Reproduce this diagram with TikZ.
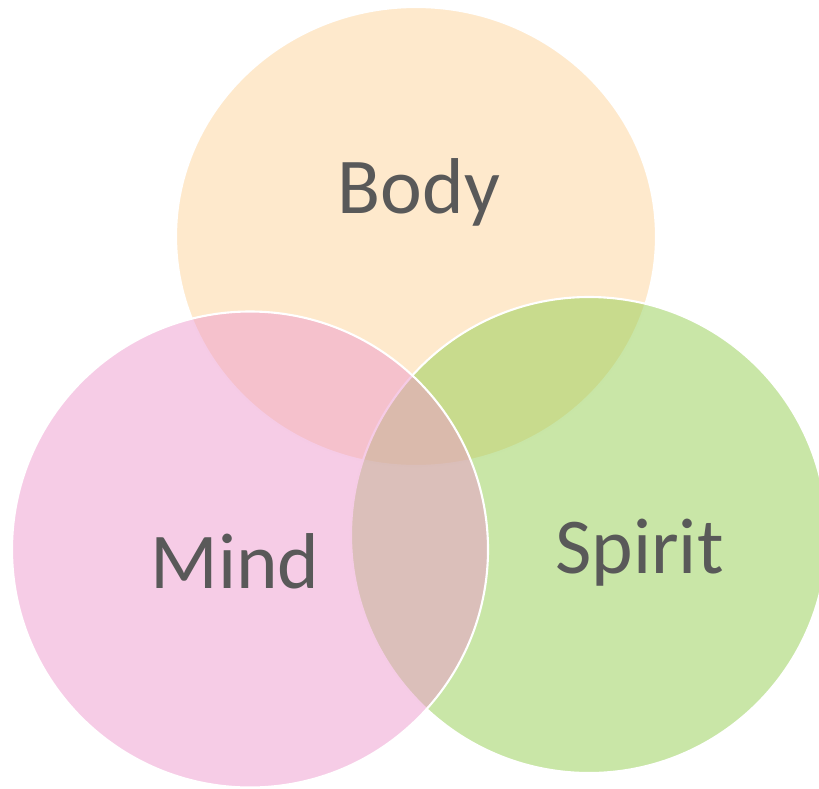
\documentclass[tikz,border=0pt]{standalone}
\usepackage{fontspec}
\setmainfont{Carlito}
\definecolor{bodyfill}{RGB}{253,211,153}
\definecolor{mindfill}{RGB}{237,153,205}
\definecolor{spiritfill}{RGB}{147,205,79}
\definecolor{textgray}{RGB}{89,89,89}
\begin{document}
\begin{tikzpicture}[x=0.01cm, y=-0.01cm]
    \tikzset{
        venn/.style={fill opacity=0.5, draw=white, line width=0.6pt},
        vennlabel/.style={text=textgray, anchor=base, font=\fontsize{22.5}{27}\selectfont}
    }
    \useasboundingbox (0,0) rectangle (819,788);
    % Circles
    \draw[venn, fill=bodyfill] (416,236.5) ellipse [x radius=240, y radius=229.5];
    \draw[venn, fill=spiritfill] (589,535) circle [radius=238];
    \draw[venn, fill=mindfill] (250,549.5) circle [radius=238];
    % Labels
    \node[vennlabel] (body) at (419,213) {Body};
    \node[vennlabel] (mind) at (235,588) {Mind};
    \node[vennlabel] (spirit) at (639.5,573) {Spirit};
\end{tikzpicture}
\end{document}
